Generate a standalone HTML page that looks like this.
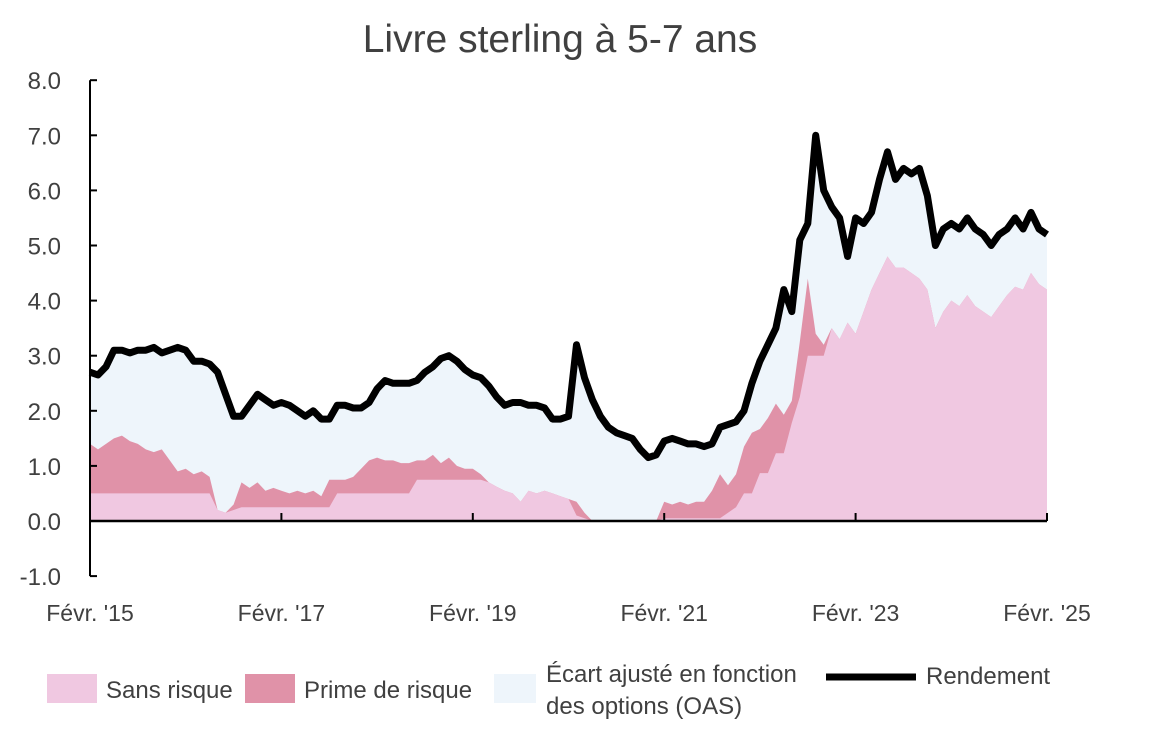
<!DOCTYPE html>
<html><head><meta charset="utf-8"><style>
body{margin:0;background:#fff;font-family:"Liberation Sans",sans-serif;}
svg text{font-family:"Liberation Sans",sans-serif;fill:#404040}
</style></head><body>
<svg id="chart" width="1170" height="735">
<text x="560" y="52" text-anchor="middle" font-size="39">Livre sterling à 5-7 ans</text>
<g id="plot"></g>
<g id="axes"></g>
<g id="legend">
<rect x="47" y="674" width="50" height="29" fill="#f0c8e1"/>
<text x="106" y="698" font-size="24">Sans risque</text>
<rect x="245" y="674" width="50" height="29" fill="#e092a8"/>
<text x="304" y="698" font-size="24">Prime de risque</text>
<rect x="494" y="674" width="42" height="29" fill="#eef5fb"/>
<text x="546" y="682" font-size="24">Écart ajusté en fonction</text>
<text x="546" y="714" font-size="24">des options (OAS)</text>
<line x1="826" y1="677" x2="916" y2="677" stroke="#000" stroke-width="7"/>
<text x="926" y="684" font-size="24">Rendement</text>
</g>
</svg>
<script>
const yieldTotal=[2.7,2.65,2.8,3.1,3.1,3.05,3.1,3.1,3.15,3.05,3.1,3.15,
3.1,2.9,2.9,2.85,2.7,2.3,1.9,1.9,2.1,2.3,2.2,2.1,
2.15,2.1,2.0,1.9,2.0,1.85,1.85,2.1,2.1,2.05,2.05,2.15,
2.4,2.55,2.5,2.5,2.5,2.55,2.7,2.8,2.95,3.0,2.9,2.75,
2.65,2.6,2.45,2.25,2.1,2.15,2.15,2.1,2.1,2.05,1.85,1.85,
1.9,3.2,2.6,2.2,1.9,1.7,1.6,1.55,1.5,1.3,1.15,1.2,
1.45,1.5,1.45,1.4,1.4,1.35,1.4,1.7,1.75,1.8,2.0,2.5,
2.9,3.2,3.5,4.2,3.8,5.1,5.4,7.0,6.0,5.7,5.5,4.8,
5.5,5.4,5.6,6.2,6.7,6.2,6.4,6.3,6.4,5.9,5.0,5.3,
5.4,5.3,5.5,5.3,5.2,5.0,5.2,5.3,5.5,5.3,5.6,5.3,5.2];
const riskFree=[0.5,0.5,0.5,0.5,0.5,0.5,0.5,0.5,0.5,0.5,0.5,0.5,0.5,0.5,0.5,0.5,
0.2,0.15,0.2,0.25,0.25,0.25,0.25,0.25,0.25,0.25,0.25,0.25,0.25,0.25,0.25,
0.5,0.5,0.5,0.5,0.5,0.5,0.5,0.5,0.5,0.5,
0.75,0.75,0.75,0.75,0.75,0.75,0.75,0.75,0.75,
0.7,0.62,0.55,0.5,0.35,0.55,0.5,0.55,0.5,0.45,0.4,0.1,0.05,
0,0,0,0,0,0,0,0,0,
0.05,0.05,0.05,0.05,0.05,0.05,0.05,0.05,
0.15,0.25,0.5,0.5,0.87,0.87,1.23,1.23,1.78,2.25,3.0,3.0,3.0,
3.5,3.3,3.6,3.4,3.8,4.2,4.5,4.8,4.6,4.6,4.5,4.4,4.2,3.5,3.8,4.0,3.9,4.1,3.9,3.8,3.7,3.9,4.1,4.25,4.2,4.5,4.3,4.2];
const riskPremium=[0.9,0.8,0.9,1.0,1.05,0.95,0.9,0.8,0.75,0.8,0.6,0.4,0.45,0.35,0.4,0.3,
0,0,0.1,0.45,0.35,0.45,0.3,0.35,0.3,0.25,0.3,0.25,0.3,0.2,0.5,0.25,0.25,0.3,0.45,0.6,
0.65,0.6,0.6,0.55,0.55,0.35,0.35,0.45,0.3,0.4,0.25,0.2,0.2,0.1,
0,0,0,0,0,0,0,0,0,0,0,0.25,0.1,
0,0,0,0,0,0,0,0,0,
0.3,0.25,0.3,0.25,0.3,0.3,0.5,0.8,0.5,0.6,0.85,1.1,0.8,1.0,0.9,0.7,0.4,1.0,1.4,0.4,0.2,
0,0,0,0,0,0,0,0,0,0,0,0,0,0,0,0,0,0,0,0,0,0,0,0,0,0,0,0];
const yTicks=[-1,0,1,2,3,4,5,6,7,8];
const xTickLabels=["Févr. '15","Févr. '17","Févr. '19","Févr. '21","Févr. '23","Févr. '25"];
const xTickMonths=[0,24,48,72,96,120];

const NS="http://www.w3.org/2000/svg";
const X0=90,X1=1047,Y0=521,PPU=55.1;
const xs=t=>X0+t*(X1-X0)/120;
const ys=v=>Y0-v*PPU;
function mk(tag,attrs,parent){const e=document.createElementNS(NS,tag);for(const k in attrs)e.setAttribute(k,attrs[k]);parent.appendChild(e);return e;}
const plot=document.getElementById('plot'),axes=document.getElementById('axes');
function area(vals,fill,name){
  let d="M"+xs(0)+","+ys(0);
  vals.forEach((v,i)=>{d+="L"+xs(i).toFixed(1)+","+ys(v).toFixed(1);});
  d+="L"+xs(vals.length-1)+","+ys(0)+"Z";
  const p=mk('path',{d:d,fill:fill},plot);
  
  
}
area(yieldTotal,"#eef5fb","oas-area");
area(riskFree.map((v,i)=>v+riskPremium[i]),"#e092a8","risk-premium-area");
area(riskFree,"#f0c8e1","risk-free-area");
let d="";
yieldTotal.forEach((v,i)=>{d+=(i?"L":"M")+xs(i).toFixed(1)+","+ys(v).toFixed(1);});
const ln=mk('path',{d:d,fill:"none",stroke:"#000","stroke-width":7,"stroke-linejoin":"round"},plot);


const ya=mk('line',{x1:X0,x2:X0,y1:ys(8),y2:ys(-1),stroke:"#000","stroke-width":2},axes);


const xa=mk('line',{x1:X0,x2:X1,y1:Y0,y2:Y0,stroke:"#000","stroke-width":2.5},axes);


yTicks.forEach(v=>{
  const tk=mk('line',{x1:X0,x2:X0+7,y1:ys(v),y2:ys(v),stroke:"#000","stroke-width":2},axes);
  
  
  const t=mk('text',{x:61,y:ys(v)+9,"text-anchor":"end","font-size":24},axes);
  t.textContent=v.toFixed(1);
  
  
});
xTickMonths.forEach((m,i)=>{
  const tk=mk('line',{x1:xs(m),x2:xs(m),y1:Y0,y2:Y0-8,stroke:"#000","stroke-width":2},axes);
  
  
  const t=mk('text',{x:xs(m),y:621,"text-anchor":"middle","font-size":23},axes);
  t.textContent=xTickLabels[i];
  
  
});
</script>
</body></html>
